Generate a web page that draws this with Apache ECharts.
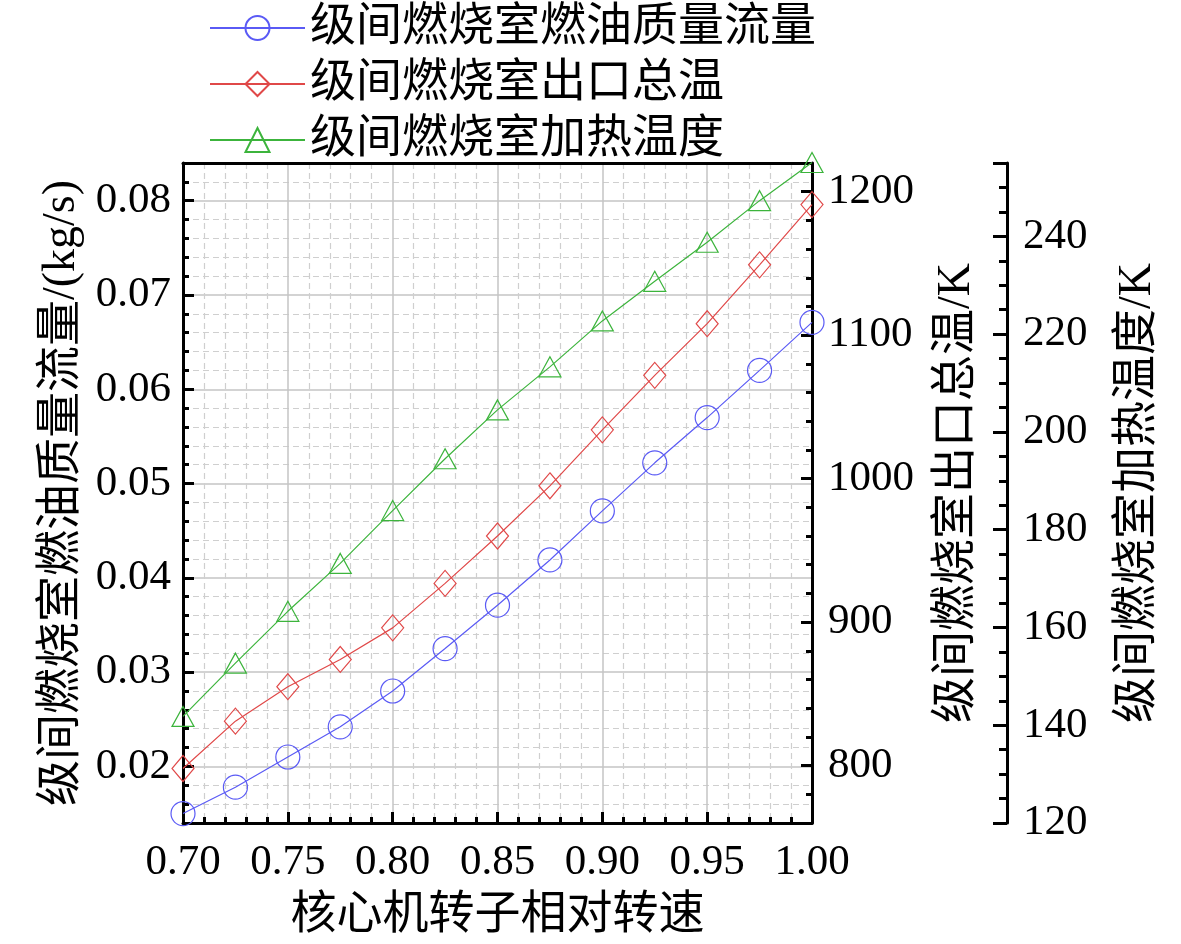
<!DOCTYPE html>
<html>
<head>
<meta charset="utf-8">
<script src="https://cdn.jsdelivr.net/npm/echarts@6/dist/echarts.min.js"></script>
<style>
  html, body { margin: 0; padding: 0; background: #fff; }
  #chart { width: 1181px; height: 944px; }
</style>
</head>
<body>
<div id="chart"></div>
<script>
// relative core rotor speed
const speed = [0.700, 0.725, 0.750, 0.775, 0.800, 0.825, 0.850, 0.875, 0.900, 0.925, 0.950, 0.975, 1.000];
// inter-stage burner fuel mass flow, kg/s
const fuelFlow = [0.0150, 0.0178, 0.0210, 0.0242, 0.0280, 0.0325, 0.0371, 0.0419, 0.0471, 0.0522, 0.0570, 0.0620, 0.0671];
// inter-stage burner outlet total temperature, K
const outletTemp = [798, 831, 855, 874, 896, 927, 960, 995, 1034, 1072, 1108, 1149, 1191];
// inter-stage burner heating temperature rise, K
const heatRise = [141.8, 152.7, 163.3, 173.1, 183.9, 194.5, 204.5, 213.3, 222.7, 230.8, 238.8, 247.3, 255.1];

const seriesNames = ["级间燃烧室燃油质量流量", "级间燃烧室出口总温", "级间燃烧室加热温度"];
const colors = ["#5a5af5", "#e04848", "#3cb43c"];

const font = "'Liberation Serif', 'Noto Sans CJK SC', serif";
const tickSize = 43;
const nameSize = 46;

const pairs = (ys) => speed.map((x, i) => [x, ys[i]]);

// only label the round ticks, the extent ends are not labelled
const stepLabel = (step, digits) => (v) => {
  const k = v / step;
  return Math.abs(k - Math.round(k)) < 1e-6 ? v.toFixed(digits) : "";
};

const chartDom = document.getElementById("chart");
const myChart = echarts.init(chartDom);

const yBase = {
  type: "value",
  nameLocation: "middle",
  nameRotate: 90,
  nameTextStyle: { color: "#000", fontSize: nameSize, fontFamily: font },
  axisLine: { show: true, onZero: false, lineStyle: { color: "#000", width: 3 } },
  axisTick: { show: true, inside: true, length: 11, lineStyle: { color: "#000", width: 3 } },
  minorTick: { show: true, length: 6, lineStyle: { color: "#000", width: 3 } },
  axisLabel: { color: "#000", fontSize: tickSize, fontFamily: font },
  splitLine: { show: false },
};

const options = {
  animation: false,
  textStyle: { fontFamily: font },
  legend: {
    orient: "vertical",
    left: 204,
    top: 0,
    itemWidth: 95,
    itemHeight: 30,
    itemGap: 10,
    textStyle: { color: "#000", fontSize: nameSize, fontFamily: font },
    data: seriesNames,
  },
  grid: { left: 183, right: 369, top: 163, bottom: 119, containLabel: false },
  xAxis: [
    {
      type: "value",
      min: 0.7,
      max: 1.0,
      interval: 0.05,
      name: "核心机转子相对转速",
      nameLocation: "middle",
      nameGap: 70,
      nameTextStyle: { color: "#000", fontSize: nameSize, fontFamily: font },
      axisLine: { onZero: false, lineStyle: { color: "#000", width: 3 } },
      axisTick: { inside: true, length: 11, lineStyle: { color: "#000", width: 3 } },
      minorTick: { show: true, splitNumber: 5, length: 6, lineStyle: { color: "#000", width: 3 } },
      axisLabel: { color: "#000", fontSize: tickSize, fontFamily: font, margin: 18, formatter: (v) => v.toFixed(2) },
      splitLine: { show: true, lineStyle: { color: "#c4c4c4", width: 1.5 } },
      minorSplitLine: { show: true, lineStyle: { color: "#cfcfcf", width: 1.2, type: [6, 4] } },
    },
    {
      // top frame line
      type: "value",
      position: "top",
      min: 0.7,
      max: 1.0,
      axisLine: { show: true, onZero: false, lineStyle: { color: "#000", width: 3 } },
      axisTick: { show: false },
      axisLabel: { show: false },
      splitLine: { show: false },
    },
  ],
  yAxis: [
    Object.assign({}, yBase, {
      position: "left",
      min: 0.014,
      max: 0.084,
      splitNumber: 7,
      name: "级间燃烧室燃油质量流量/(kg/s)",
      nameGap: 92,
      minorTick: Object.assign({}, yBase.minorTick, { splitNumber: 5 }),
      axisLabel: Object.assign({}, yBase.axisLabel, { margin: 12, formatter: stepLabel(0.01, 2) }),
      splitLine: { show: true, lineStyle: { color: "#c4c4c4", width: 1.5 } },
      minorSplitLine: { show: true, lineStyle: { color: "#cfcfcf", width: 1.2, type: [6, 4] } },
    }),
    Object.assign({}, yBase, {
      position: "right",
      min: 760,
      max: 1220,
      splitNumber: 5,
      name: "级间燃烧室出口总温/K",
      nameGap: 122,
      minorTick: Object.assign({}, yBase.minorTick, { splitNumber: 5 }),
      axisLabel: Object.assign({}, yBase.axisLabel, { margin: 16, formatter: stepLabel(100, 0) }),
    }),
    Object.assign({}, yBase, {
      position: "right",
      offset: 195,
      min: 120,
      max: 255,
      splitNumber: 7,
      name: "级间燃烧室加热温度/K",
      nameGap: 108,
      axisTick: Object.assign({}, yBase.axisTick, { length: 14 }),
      minorTick: Object.assign({}, yBase.minorTick, { splitNumber: 4, length: 8 }),
      axisLabel: Object.assign({}, yBase.axisLabel, { margin: 16, formatter: stepLabel(20, 0) }),
    }),
  ],
  series: [
    {
      name: seriesNames[0],
      type: "line",
      yAxisIndex: 0,
      data: pairs(fuelFlow),
      symbol: "circle",
      symbolSize: 24,
      clip: false,
      color: colors[0],
      lineStyle: { width: 1.2, color: colors[0] },
      itemStyle: { color: "rgba(0,0,0,0)", borderColor: colors[0], borderWidth: 1.2 },
    },
    {
      name: seriesNames[1],
      type: "line",
      yAxisIndex: 1,
      data: pairs(outletTemp),
      symbol: "diamond",
      symbolSize: [22, 26],
      clip: false,
      color: colors[1],
      lineStyle: { width: 1.2, color: colors[1] },
      itemStyle: { color: "rgba(0,0,0,0)", borderColor: colors[1], borderWidth: 1.2 },
    },
    {
      name: seriesNames[2],
      type: "line",
      yAxisIndex: 2,
      data: pairs(heatRise),
      symbol: "triangle",
      symbolSize: [22, 20],
      clip: false,
      color: colors[2],
      lineStyle: { width: 1.2, color: colors[2] },
      itemStyle: { color: "rgba(0,0,0,0)", borderColor: colors[2], borderWidth: 1.2 },
    },
  ],
};

myChart.setOption(options);
</script>
</body>
</html>
